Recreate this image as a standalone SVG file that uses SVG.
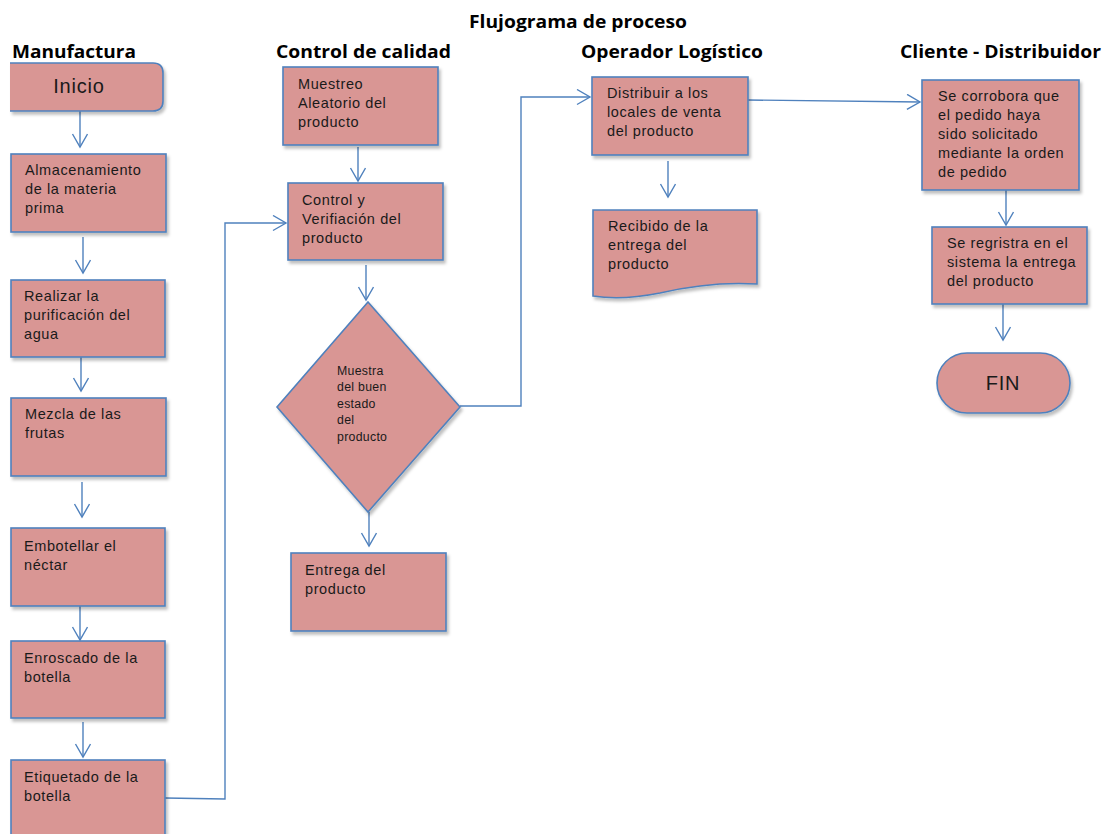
<svg xmlns="http://www.w3.org/2000/svg" width="1103" height="834" viewBox="0 0 1103 834">
  <defs>
    <marker id="arrow" markerUnits="userSpaceOnUse" markerWidth="18" markerHeight="18" refX="14" refY="8" orient="auto">
      <path d="M1,0.5 L14,8 L1,15.5" fill="none" stroke="#4F81BD" stroke-width="1.4"/>
    </marker>
    <filter id="shadow" x="-10%" y="-10%" width="130%" height="130%">
      <feDropShadow dx="2" dy="3" stdDeviation="1.5" flood-color="#000" flood-opacity="0.25"/>
    </filter>
  </defs>
  <style>
    .box { fill: #D99694; stroke: #4F81BD; stroke-width: 1.6; filter: url(#shadow); }
    .lbl { font-family: "Liberation Sans", Arial, sans-serif; font-size: 14.5px; fill: #1a1a1a; letter-spacing: 0.6px; }
    .small { font-family: "Liberation Sans", Arial, sans-serif; font-size: 12.3px; fill: #1a1a1a; letter-spacing: 0.3px; }
    .big { font-family: "Liberation Sans", Arial, sans-serif; font-size: 20px; fill: #1a1a1a; letter-spacing: 0.8px; }
    .head { font-family: "Open Sans", "Liberation Sans", Arial, sans-serif; font-weight: bold; font-size: 18px; fill: #000; }
    .title { font-family: "Open Sans", "Liberation Sans", Arial, sans-serif; font-weight: bold; font-size: 17px; fill: #000; }
    .conn { fill: none; stroke: #4F81BD; stroke-width: 1.4; }
  </style>
  <rect width="1103" height="834" fill="#fff"/>

  <!-- Titles -->
  <g id="headers">
    <text class="title" x="469" y="28" textLength="218" lengthAdjust="spacingAndGlyphs">Flujograma de proceso</text>
    <text class="head" x="12" y="58" textLength="124" lengthAdjust="spacingAndGlyphs">Manufactura</text>
    <text class="head" x="276" y="58" textLength="175" lengthAdjust="spacingAndGlyphs">Control de calidad</text>
    <text class="head" x="581" y="58" textLength="182" lengthAdjust="spacingAndGlyphs">Operador Logístico</text>
    <text class="head" x="900" y="58" textLength="201" lengthAdjust="spacingAndGlyphs">Cliente - Distribuidor</text>
  </g>

  <!-- Connectors -->
  <g id="connectors">
    <path class="conn" d="M80,111 V147" marker-end="url(#arrow)"/>
    <path class="conn" d="M83,237 V273" marker-end="url(#arrow)"/>
    <path class="conn" d="M81,357 V391" marker-end="url(#arrow)"/>
    <path class="conn" d="M82,482 V517" marker-end="url(#arrow)"/>
    <path class="conn" d="M80,606 V640" marker-end="url(#arrow)"/>
    <path class="conn" d="M83,722 V757" marker-end="url(#arrow)"/>
    <path class="conn" d="M165,798 L225,799 V223 H286" marker-end="url(#arrow)"/>
    <path class="conn" d="M358,147 V181" marker-end="url(#arrow)"/>
    <path class="conn" d="M366,265 V300" marker-end="url(#arrow)"/>
    <path class="conn" d="M369,512 V546" marker-end="url(#arrow)"/>
    <path class="conn" d="M460,406 L521,406 V97 H590" marker-end="url(#arrow)"/>
    <path class="conn" d="M668,161 V197" marker-end="url(#arrow)"/>
    <path class="conn" d="M748,100 L920,102" marker-end="url(#arrow)"/>
    <path class="conn" d="M1006,190 V225" marker-end="url(#arrow)"/>
    <path class="conn" d="M1003,304 V340" marker-end="url(#arrow)"/>
  </g>

  <!-- Manufactura -->
  <g id="inicio">
    <path class="box" d="M10,63 H153 Q163,63 163,73 V101 Q163,111 153,111 H10"/>
    <text class="big" x="79" y="93" text-anchor="middle">Inicio</text>
  </g>
  <g id="almacenamiento">
    <rect class="box" x="11" y="154" width="155" height="78"/>
    <text class="lbl" x="25" y="175">Almacenamiento</text>
    <text class="lbl" x="25" y="194">de la materia</text>
    <text class="lbl" x="25" y="213">prima</text>
  </g>
  <g id="purificacion">
    <rect class="box" x="11" y="280" width="154" height="77"/>
    <text class="lbl" x="24" y="301">Realizar la</text>
    <text class="lbl" x="24" y="320">purificación del</text>
    <text class="lbl" x="24" y="339">agua</text>
  </g>
  <g id="mezcla">
    <rect class="box" x="11" y="398" width="155" height="78"/>
    <text class="lbl" x="25" y="419">Mezcla de las</text>
    <text class="lbl" x="25" y="438">frutas</text>
  </g>
  <g id="embotellar">
    <rect class="box" x="11" y="528" width="154" height="78"/>
    <text class="lbl" x="24" y="551">Embotellar el</text>
    <text class="lbl" x="24" y="570">néctar</text>
  </g>
  <g id="enroscado">
    <rect class="box" x="11" y="641" width="154" height="77"/>
    <text class="lbl" x="24" y="663">Enroscado de la</text>
    <text class="lbl" x="24" y="682">botella</text>
  </g>
  <g id="etiquetado">
    <rect class="box" x="11" y="760" width="154" height="80"/>
    <text class="lbl" x="24" y="782">Etiquetado de la</text>
    <text class="lbl" x="24" y="801">botella</text>
  </g>

  <!-- Control de calidad -->
  <g id="muestreo">
    <rect class="box" x="283" y="67" width="155" height="78"/>
    <text class="lbl" x="298" y="89">Muestreo</text>
    <text class="lbl" x="298" y="108">Aleatorio del</text>
    <text class="lbl" x="298" y="127">producto</text>
  </g>
  <g id="verificacion">
    <rect class="box" x="288" y="183" width="155" height="77"/>
    <text class="lbl" x="302" y="205">Control y</text>
    <text class="lbl" x="302" y="224">Verifiación del</text>
    <text class="lbl" x="302" y="243">producto</text>
  </g>
  <g id="decision">
    <polygon class="box" points="368,302 460,407 368,512 277,407"/>
    <text class="small" x="337" y="375">Muestra</text>
    <text class="small" x="337" y="391">del buen</text>
    <text class="small" x="337" y="408">estado</text>
    <text class="small" x="337" y="424">del</text>
    <text class="small" x="337" y="441">producto</text>
  </g>
  <g id="entrega">
    <rect class="box" x="291" y="553" width="155" height="78"/>
    <text class="lbl" x="305" y="575">Entrega del</text>
    <text class="lbl" x="305" y="594">producto</text>
  </g>

  <!-- Operador Logístico -->
  <g id="distribuir">
    <rect class="box" x="592" y="77" width="156" height="78"/>
    <text class="lbl" x="607" y="98">Distribuir a los</text>
    <text class="lbl" x="607" y="117">locales de venta</text>
    <text class="lbl" x="607" y="136">del producto</text>
  </g>
  <g id="recibido">
    <path class="box" d="M593,210 H757 V284 C725,282 690,286 660,293 C635,298 612,299 593,296 Z"/>
    <text class="lbl" x="608" y="231">Recibido de la</text>
    <text class="lbl" x="608" y="250">entrega del</text>
    <text class="lbl" x="608" y="269">producto</text>
  </g>

  <!-- Cliente - Distribuidor -->
  <g id="corrobora">
    <rect class="box" x="922" y="80" width="157" height="110"/>
    <text class="lbl" x="938" y="101">Se corrobora que</text>
    <text class="lbl" x="938" y="120">el pedido haya</text>
    <text class="lbl" x="938" y="139">sido solicitado</text>
    <text class="lbl" x="938" y="158">mediante la orden</text>
    <text class="lbl" x="938" y="177">de pedido</text>
  </g>
  <g id="registro">
    <rect class="box" x="932" y="227" width="155" height="77"/>
    <text class="lbl" x="947" y="248">Se regristra en el</text>
    <text class="lbl" x="947" y="267">sistema la entrega</text>
    <text class="lbl" x="947" y="286">del producto</text>
  </g>
  <g id="fin">
    <rect class="box" x="937" y="353" width="133" height="60" rx="30"/>
    <text class="big" x="1003" y="390" text-anchor="middle">FIN</text>
  </g>
</svg>
